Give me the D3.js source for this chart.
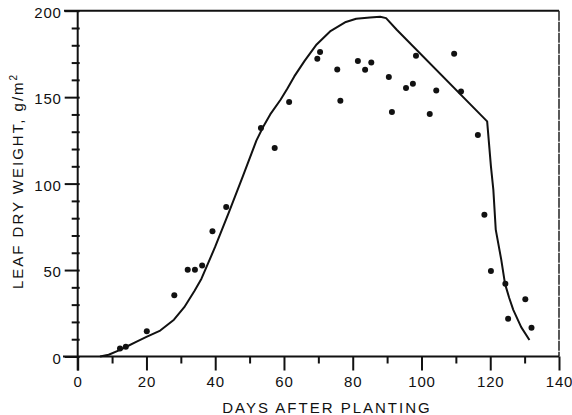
<!DOCTYPE html>
<html>
<head>
<meta charset="utf-8">
<script src="https://cdn.jsdelivr.net/npm/d3@7"></script>
<style>
html,body{margin:0;padding:0;background:#fff;}
svg{display:block;}
text{font-family:"Liberation Sans","DejaVu Sans",sans-serif;fill:#111;}
</style>
</head>
<body>
<svg id="chart" width="572" height="415"></svg>
<script>
// Observed leaf dry weight (days after planting, g/m2)
const obsDays = [12.3,14,20.1,28.1,32,34.1,36.2,39.2,43.2,53.3,57.3,61.5,69.7,70.5,75.5,76.4,81.5,83.6,85.4,90.5,91.4,95.5,97.5,98.4,102.4,104.3,109.5,111.5,116.4,118.3,120.2,124.4,125.2,130.2,132];
const obsWeight = [4.6,5.7,14.6,35.4,50.2,50.2,52.7,72.4,86.5,132.1,120.6,147.2,172.2,176.1,166,147.9,170.9,165.8,170,161.6,141.4,155.3,157.7,173.9,140.2,153.9,175.1,153.3,128.1,82,49.5,42.1,21.9,33.1,16.7];
// Simulated curve
const simDays = [6.5,9,12,14,17,20,24,28,31,34,36,40,44,48,52,54,56,59,61,63,66,69.5,73.4,78,81,85,88,89.7,92.8,119.1,120.2,120.9,121.6,123.2,124.3,125.5,126.7,129,131.4];
const simWeight = [0,1,3.5,5.5,8.5,11.3,15,21.3,28.5,38,45,63.5,83.5,104,125,133,140,148.5,155,162,171,180.5,188,193.5,195.3,196,196.5,195.7,189,136,110,96.5,73.4,56,42,34,27,17,9.5];
// Ticks
const xMajor = [0,20,40,60,80,100,120,140];
const xMinor = [10,30,50,70,90,110,130];
const yMajor = [0,50,100,150,200];
const yMinor = [10,20,30,40,60,70,80,90,110,120,130,140,160,170,180,190];

const svg = d3.select("#chart");
const x = d3.scaleLinear().domain([0,140]).range([77.7,559]);
const y = d3.scaleLinear().domain([0,200]).range([356.5,10.7]);

// frame top and right
svg.append("line").attr("x1",64).attr("x2",x(140)).attr("y1",y(200)).attr("y2",y(200))
  .attr("stroke","#111").attr("stroke-width",2);
svg.append("line").attr("x1",x(140)).attr("x2",x(140)).attr("y1",y(200)).attr("y2",y(0))
  .attr("stroke","#222").attr("stroke-width",1.5).attr("stroke-dasharray","10,1");

// x axis
const gx = svg.append("g").attr("transform",`translate(0,${y(0)})`);
gx.call(d3.axisBottom(x).tickValues(xMajor).tickSize(14).tickPadding(6).tickFormat(d3.format("d")));
gx.select(".domain").remove();
gx.append("line").attr("x1",63).attr("x2",x(140)).attr("stroke","#111").attr("stroke-width",2);
gx.selectAll(".tick line").attr("stroke","#111").attr("stroke-width",2);
gx.selectAll(".tick text").attr("font-size",15).attr("letter-spacing",0.8).attr("fill","#111");
const gx2 = svg.append("g").attr("transform",`translate(0,${y(0)})`);
gx2.call(d3.axisBottom(x).tickValues(xMinor).tickSize(7).tickFormat(""));
gx2.select(".domain").remove();
gx2.selectAll(".tick line").attr("stroke","#111").attr("stroke-width",2);

// y axis
const gy = svg.append("g").attr("transform",`translate(${x(0)},0)`);
gy.call(d3.axisLeft(y).tickValues(yMajor).tickSize(13).tickPadding(3).tickFormat(d3.format("d")));
gy.select(".domain").remove();
gy.append("line").attr("y1",y(200)).attr("y2",y(0)+14).attr("stroke","#111").attr("stroke-width",2);
gy.selectAll(".tick line").attr("stroke","#111").attr("stroke-width",2).attr("x2",-13).attr("x1",2);
gy.selectAll(".tick text").attr("font-size",15).attr("letter-spacing",0.8).attr("dy","0.45em").attr("fill","#111");
const gy2 = svg.append("g").attr("transform",`translate(${x(0)},0)`);
gy2.call(d3.axisLeft(y).tickValues(yMinor).tickSize(6).tickFormat(""));
gy2.select(".domain").remove();
gy2.selectAll(".tick line").attr("stroke","#111").attr("stroke-width",2).attr("x1",2);

// curve
const line = d3.line().x((d,i)=>x(simDays[i])).y((d,i)=>y(simWeight[i])).curve(d3.curveLinear);
svg.append("path").datum(simWeight).attr("d",line).attr("fill","none")
  .attr("stroke","#111").attr("stroke-width",2).attr("stroke-linejoin","round");

// points
svg.append("g").selectAll("circle").data(obsWeight).join("circle")
  .attr("cx",(d,i)=>x(obsDays[i])).attr("cy",d=>y(d)).attr("r",3).attr("fill","#111");

// titles
svg.append("text").attr("x",327).attr("y",413).attr("text-anchor","middle")
  .attr("font-size",15).attr("letter-spacing",2).text("DAYS AFTER PLANTING");
const yt = svg.append("text").attr("transform","translate(23,181) rotate(-90)")
  .attr("text-anchor","middle").attr("font-size",15).attr("letter-spacing",2);
yt.append("tspan").text("LEAF DRY WEIGHT, g/m");
yt.append("tspan").attr("font-size",10).attr("dy",-6).text("2");
</script>
</body>
</html>
